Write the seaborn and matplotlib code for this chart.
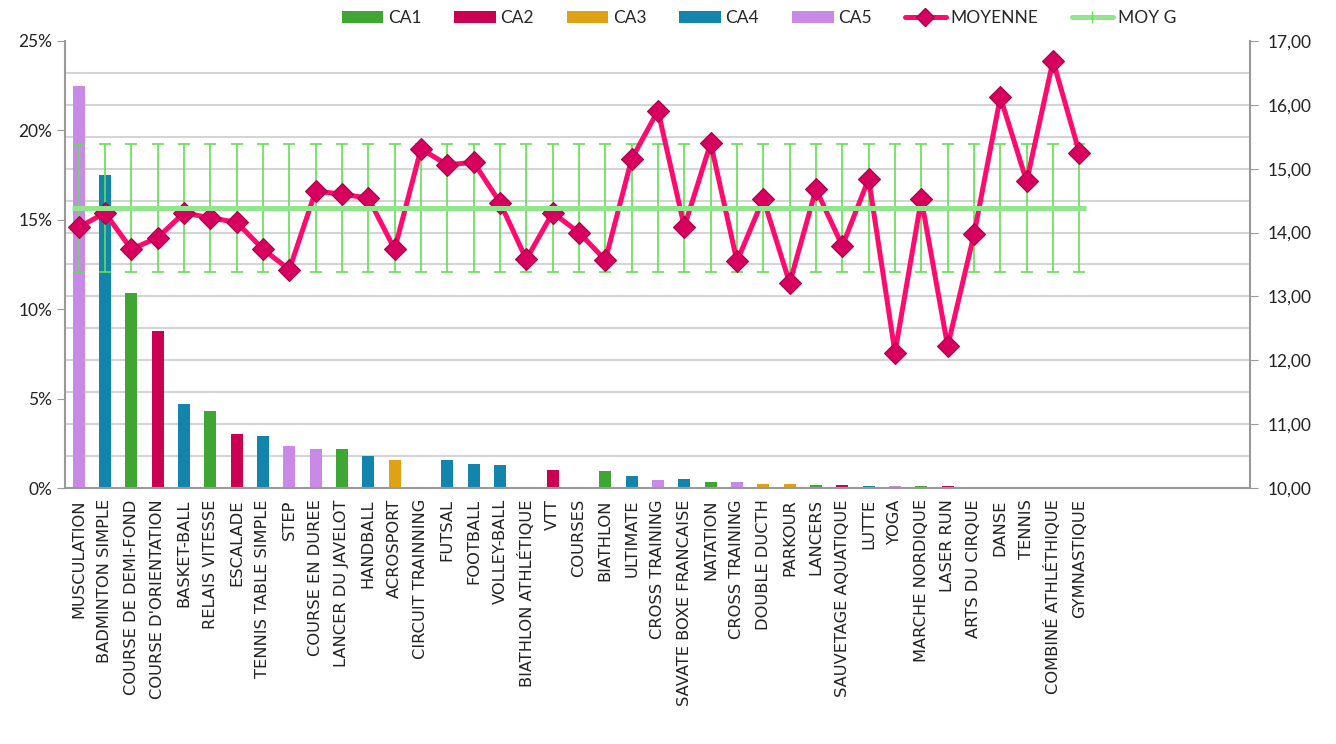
import numpy as np
import pandas as pd
import matplotlib
matplotlib.use("Agg")
import matplotlib.pyplot as plt
from matplotlib.patches import Patch
from matplotlib.lines import Line2D
from matplotlib.ticker import PercentFormatter, FuncFormatter
import seaborn as sns

# ---- donnees ----
sports = [
    "MUSCULATION", "BADMINTON SIMPLE", "COURSE DE DEMI-FOND", "COURSE D'ORIENTATION",
    "BASKET-BALL", "RELAIS VITESSE", "ESCALADE", "TENNIS TABLE SIMPLE", "STEP",
    "COURSE EN DUREE", "LANCER DU JAVELOT", "HANDBALL", "ACROSPORT", "CIRCUIT TRAINNING",
    "FUTSAL", "FOOTBALL", "VOLLEY-BALL", "BIATHLON ATHLÉTIQUE", "VTT", "COURSES",
    "BIATHLON", "ULTIMATE", "CROSS TRAINING", "SAVATE BOXE FRANCAISE", "NATATION",
    "CROSS TRAINING", "DOUBLE DUCTH", "PARKOUR", "LANCERS", "SAUVETAGE AQUATIQUE",
    "LUTTE", "YOGA", "MARCHE NORDIQUE", "LASER RUN", "ARTS DU CIRQUE", "DANSE",
    "TENNIS", "COMBINÉ ATHLÉTHIQUE", "GYMNASTIQUE",
]
part = [
    22.5, 17.5, 10.9, 8.77, 4.72, 4.33, 3.0, 2.91, 2.35,
    2.2, 2.2, 1.79, 1.59, 0.0,
    1.59, 1.37, 1.27, 0.0, 1.03, 0.0,
    0.95, 0.65, 0.47, 0.48, 0.34,
    0.34, 0.24, 0.24, 0.19, 0.19,
    0.11, 0.11, 0.11, 0.11, 0.0, 0.0,
    0.0, 0.0, 0.0,
]
champ = [
    "CA5", "CA4", "CA1", "CA2", "CA4", "CA1", "CA2", "CA4", "CA5",
    "CA5", "CA1", "CA4", "CA3", "CA5",
    "CA4", "CA4", "CA4", "CA1", "CA2", "CA1",
    "CA1", "CA4", "CA5", "CA4", "CA1",
    "CA5", "CA3", "CA3", "CA1", "CA2",
    "CA4", "CA5", "CA1", "CA2", "CA3", "CA3",
    "CA4", "CA1", "CA3",
]
moyenne = [
    14.08, 14.31, 13.74, 13.92, 14.31, 14.23, 14.16, 13.74, 13.42,
    14.65, 14.60, 14.54, 13.74, 15.31,
    15.06, 15.10, 14.47, 13.58, 14.31, 14.00,
    13.57, 15.15, 15.91, 14.09, 15.40,
    13.55, 14.53, 13.21, 14.68, 13.79,
    14.84, 12.12, 14.52, 12.22, 13.97, 16.12,
    14.80, 16.69, 15.25,
]
moy_g = 14.38
moy_g_err = 1.0
n_slots = 45  # l'axe garde 6 cases vides a droite

ca_names = ["CA1", "CA2", "CA3", "CA4", "CA5"]
ca_colors = ["#3fa533", "#cc0052", "#dea214", "#1385ad", "#c88ae6"]
c_moy = "#ff0a6e"
c_moyg = "#90e68c"
c_err = "#62e052"

df = pd.DataFrame({"pos": np.arange(len(sports)), "sport": sports,
                   "part": np.array(part) / 100, "ca": champ, "moy": moyenne})

sns.set_style("white")
plt.rcParams["font.family"] = ["DejaVu Sans"]

fig, ax = plt.subplots(figsize=(13.36, 7.44), dpi=100)
fig.subplots_adjust(left=0.049, right=0.936, top=0.945, bottom=0.344)

# barres (axe gauche)
sns.barplot(data=df, x="pos", y="part", hue="ca", hue_order=ca_names,
            palette=dict(zip(ca_names, ca_colors)), dodge=False, width=0.45,
            edgecolor="none", saturation=1, legend=False, ax=ax)
ax.set_xlim(-0.5, n_slots - 0.5)
ax.set_ylim(0, 0.25)
ax.set_yticks(np.arange(0, 0.26, 0.05))
ax.yaxis.set_major_formatter(PercentFormatter(1.0, decimals=0))
ax.set_yticks(np.linspace(0, 0.25, 15), minor=True)
ax.yaxis.grid(True, which="minor", color="#d4d4d4", linewidth=1.5)
ax.yaxis.grid(False, which="major")
ax.set_xticks(df["pos"])
ax.set_xticklabels(sports, rotation=90, fontsize=11.7, color="#222222")
ax.set_xticks(np.arange(-0.5, n_slots, 1), minor=True)
ax.tick_params(axis="x", which="major", length=0, pad=8)
ax.tick_params(axis="x", which="minor", length=6, color="#999999", direction="out")
ax.tick_params(axis="y", which="major", length=6, color="#999999", direction="out",
               labelsize=12.5, labelcolor="#222222", left=True)
ax.tick_params(axis="y", which="minor", length=0)
for lab in ax.get_yticklabels():
    lab.set_family("Lato")
ax.set_xlabel("")
ax.set_ylabel("")
for s in ["left", "bottom"]:
    ax.spines[s].set_color("#999999")
    ax.spines[s].set_linewidth(1.5)
ax.spines["top"].set_visible(False)
ax.spines["right"].set_visible(False)

# moyennes (axe droit)
ax2 = ax.twinx()
ax2.errorbar(df["pos"], [moy_g] * len(sports), yerr=moy_g_err, fmt="none",
             ecolor=c_err, elinewidth=1.2, capsize=4, capthick=1.2, zorder=2)
sns.lineplot(x=df["pos"], y=df["moy"], ax=ax2, color=c_moy, linewidth=3.6,
             marker="D", markersize=11, markerfacecolor="#d8005e",
             markeredgecolor="#a80048", markeredgewidth=0.8, zorder=3)
sns.lineplot(x=df["pos"], y=[moy_g] * len(sports), ax=ax2, color=c_moyg,
             linewidth=3.6, marker="_", markersize=10, markeredgewidth=3.6,
             markeredgecolor=c_moyg, zorder=4)
ax2.set_ylim(10, 17)
ax2.set_yticks(np.arange(10, 17.1, 1))
ax2.yaxis.set_major_formatter(FuncFormatter(lambda v, p: f"{v:.2f}".replace(".", ",")))
ax2.tick_params(axis="y", length=6, color="#999999", direction="out",
                labelsize=12.5, labelcolor="#222222", right=True, pad=6)
for lab in ax2.get_yticklabels():
    lab.set_family("Lato")
ax2.set_ylabel("")
ax2.set_xlabel("")
ax2.grid(False)
for s in ["left", "bottom", "top"]:
    ax2.spines[s].set_visible(False)
ax2.spines["right"].set_color("#999999")
ax2.spines["right"].set_linewidth(1.5)
ax2.set_xlim(-0.5, n_slots - 0.5)

# legende en haut
handles = [Patch(facecolor=c, edgecolor="none") for c in ca_colors]
handles.append(Line2D([], [], color=c_moy, linewidth=3.6, marker="D",
                      markersize=9, markerfacecolor="#d8005e", markeredgecolor="#a80048"))
handles.append(Line2D([], [], color=c_moyg, linewidth=3.6, marker="|",
                      markersize=9, markeredgecolor=c_err))
labels = ca_names + ["MOYENNE", "MOY G"]
fig.legend(handles, labels, loc="center", bbox_to_anchor=(0.568, 0.976), ncol=7,
           frameon=False, handlelength=2.4, handleheight=0.7,
           handletextpad=0.25, columnspacing=1.9, prop={"family": "Lato", "size": 12.5})

fig.savefig("out.png", dpi=100)
